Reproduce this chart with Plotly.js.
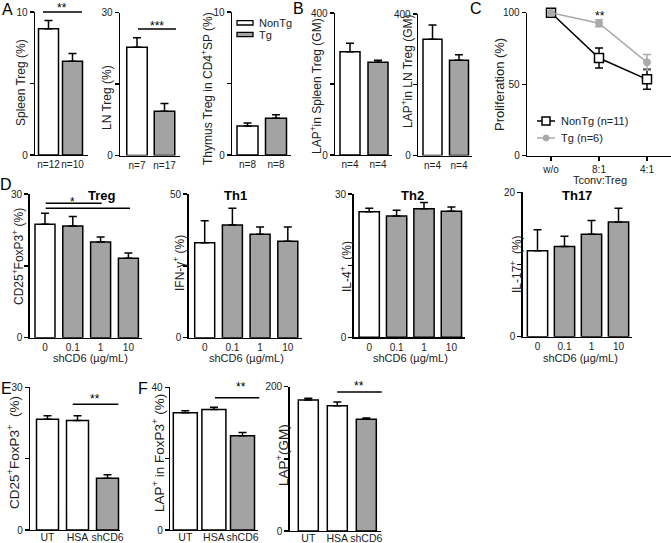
<!DOCTYPE html>
<html><head><meta charset="utf-8">
<script src="https://cdn.plot.ly/plotly-3.0.1.min.js"></script>
<style>html,body{margin:0;padding:0;background:#fff}#chart{width:671px;height:543px}</style>
</head><body><div id="chart"></div>
<script>
// ---------------- data ----------------
const aGroups = ['NonTg', 'Tg'];
const spleenTreg = [8.83, 6.55];
const spleenTregErr = [0.57, 0.55];
const spleenN = ['n=12', 'n=10'];
const lnTreg = [22.7, 9.3];
const lnTregErr = [2.0, 1.6];
const lnN = ['n=7', 'n=17'];
const thymusTreg = [2.03, 2.57];
const thymusTregErr = [0.2, 0.25];
const thymusN = ['n=8', 'n=8'];
const lapSpleen = [291, 261];
const lapSpleenErr = [23.6, 5.8];
const lapSpleenN = ['n=4', 'n=4'];
const lapLN = [328.7, 269.6];
const lapLNErr = [40.3, 14.9];
const lapLNN = ['n=4', 'n=4'];

const ratios = ['w/o', '8:1', '4:1'];
const nonTgProlif = [100, 68.3, 53.4];
const nonTgProlifErr = [0, 7, 7];
const tgProlif = [100, 92.6, 65.3];
const tgProlifErr = [0, 2.5, 5.5];

const doses = ['0', '0.1', '1', '10'];
const tregPct = [23.7, 23.3, 20.0, 16.6];
const tregPctErr = [2.3, 2.0, 1.0, 1.1];
const th1Pct = [33.0, 39.2, 36.0, 33.6];
const th1PctErr = [7.7, 5.8, 2.5, 4.9];
const th2Pct = [26.3, 25.4, 26.9, 26.4];
const th2PctErr = [0.7, 1.2, 1.3, 0.9];
const th17Pct = [11.9, 12.5, 14.2, 15.9];
const th17PctErr = [2.9, 1.4, 1.9, 1.9];

const treatments = ['UT', 'HSA', 'shCD6'];
const eTregPct = [23.3, 23.0, 10.9];
const eTregPctErr = [0.7, 1.0, 0.7];
const fLapPct = [32.9, 33.8, 26.4];
const fLapPctErr = [0.5, 0.6, 0.9];
const fLapGM = [181.6, 173.7, 154.8];
const fLapGMErr = [2.3, 5.1, 1.8];

// ---------------- layout helpers ----------------
const W = 671, H = 543;
const FONT = 'Liberation Sans, Arial, Helvetica, sans-serif';
const WHITE = '#ffffff', GREY = '#a3a3a3';
const P = x => x / W;
const Q = y => 1 - y / H;

const traces = [];
const layout = {
  width: W, height: H, margin: {l: 0, r: 0, t: 0, b: 0},
  paper_bgcolor: '#fff', plot_bgcolor: 'rgba(0,0,0,0)',
  showlegend: false, font: {family: FONT, color: '#222'},
  annotations: [], shapes: []
};

function axBase() {
  return {showline: true, linecolor: '#000', linewidth: 1.3, showgrid: false, zeroline: false,
    tickcolor: '#000', tickwidth: 1.3, fixedrange: true, tickangle: 0,
    tickfont: {family: FONT, size: 10, color: '#222'}};
}

function makeAxes(k, cfg, cats) {
  const xn = k === 1 ? 'xaxis' : 'xaxis' + k;
  const yn = k === 1 ? 'yaxis' : 'yaxis' + k;
  const yid = k === 1 ? 'y' : 'y' + k;
  const xid = k === 1 ? 'x' : 'x' + k;
  const [x0, x1] = cfg.xpx, [top, bot] = cfg.ypx;
  const xa = axBase();
  Object.assign(xa, {type: 'category', domain: [P(x0), P(x1)], anchor: yid,
    range: [-(cfg.c0 - x0) / cfg.step, (x1 - cfg.c0) / cfg.step],
    ticks: cfg.xticks ? 'outside' : '', ticklen: cfg.xticks ? 4 : 0,
    tickvals: cats, ticktext: cfg.tickText || cats});
  if (cfg.xfont) xa.tickfont = Object.assign({}, xa.tickfont, {size: cfg.xfont});
  if (cfg.standoff !== undefined) xa.ticklabelstandoff = cfg.standoff;
  const ya = axBase();
  Object.assign(ya, {domain: [Q(bot), Q(top)], anchor: xid, range: cfg.yr,
    ticks: 'outside', ticklen: 4, tickvals: cfg.yt, ticktext: cfg.ytt});
  layout[xn] = xa; layout[yn] = ya;
  return [xid, yid];
}

function barPanel(k, cats, vals, errs, colors, cfg) {
  const [xid, yid] = makeAxes(k, cfg, cats);
  traces.push({type: 'bar', x: cats, y: vals, xaxis: xid, yaxis: yid,
    width: cfg.bar / cfg.step,
    marker: {color: colors, line: {color: '#000', width: 1.5}},
    error_y: {type: 'data', symmetric: false, array: errs, arrayminus: errs.map(() => 0),
      color: '#000', thickness: 1.5, width: 4},
    hoverinfo: 'skip'});
}

function ann(text, x, y, o) {
  layout.annotations.push(Object.assign({text: text, x: P(x), y: Q(y), xref: 'paper', yref: 'paper',
    showarrow: false, xanchor: 'center', yanchor: 'middle',
    font: {family: FONT, size: 12, color: '#222'}}, o || {}));
}
function ytitle(text, x, y, size) {
  ann(text, x, y, {textangle: -90, font: {family: FONT, size: size || 12, color: '#222'}});
}
function hline(x0, x1, y, color) {
  layout.shapes.push({type: 'line', xref: 'paper', yref: 'paper', x0: P(x0), x1: P(x1), y0: Q(y), y1: Q(y),
    line: {color: color || '#000', width: 1.5}});
}
function star(text, x, y) { ann(text, x, y, {font: {family: FONT, size: 12, color: '#000'}}); }

// ---------------- row 1 ----------------
barPanel(1, aGroups, spleenTreg, spleenTregErr, [WHITE, GREY],
  {xpx: [35, 88], c0: 48.5, step: 24, bar: 20, ypx: [12, 155], yr: [0, 10], yt: [0, 5, 10], ytt: ['0', '', '10'], tickText: spleenN});
barPanel(2, aGroups, lnTreg, lnTregErr, [WHITE, GREY],
  {xpx: [120, 180], c0: 137, step: 27.5, bar: 20.5, ypx: [12.5, 155.5], yr: [0, 30], yt: [0, 15, 30], ytt: ['0', '', '30'], tickText: lnN});
barPanel(3, aGroups, thymusTreg, thymusTregErr, [WHITE, GREY],
  {xpx: [232, 291], c0: 247.5, step: 28.5, bar: 21, ypx: [12, 155], yr: [0, 10], yt: [0, 5, 10], ytt: ['0', '', '10'], tickText: thymusN});
barPanel(4, aGroups, lapSpleen, lapSpleenErr, [WHITE, GREY],
  {xpx: [335, 392], c0: 350, step: 28, bar: 20, ypx: [13, 155], yr: [0, 400], yt: [0, 200, 400], ytt: ['0', '', '400'], tickText: lapSpleenN});
barPanel(5, aGroups, lapLN, lapLNErr, [WHITE, GREY],
  {xpx: [418, 472], c0: 432.5, step: 26.5, bar: 19, ypx: [14, 155.5], yr: [0, 400], yt: [0, 200, 400], ytt: ['0', '', '400'], tickText: lapLNN});

// panel C (line chart)
{
  const [xid, yid] = makeAxes(6, {xpx: [527, 671], c0: 551, step: 48, ypx: [12.7, 155.7], yr: [0, 100],
    yt: [0, 50, 100], ytt: ['0', '50', '100'], xticks: true}, ratios);
  traces.push({type: 'scatter', mode: 'lines+markers', x: ratios, y: nonTgProlif, xaxis: xid, yaxis: yid,
    cliponaxis: false, line: {color: '#000', width: 1.5},
    marker: {symbol: 'square', size: 9, color: '#fff', line: {color: '#000', width: 1.5}},
    error_y: {type: 'data', array: nonTgProlifErr, color: '#000', thickness: 1.5, width: 4}, hoverinfo: 'skip'});
  traces.push({type: 'scatter', mode: 'lines+markers', x: ratios, y: tgProlif, xaxis: xid, yaxis: yid,
    cliponaxis: false, line: {color: '#aaaaaa', width: 1.5},
    marker: {symbol: 'circle', size: 7, color: '#aaaaaa', line: {color: '#aaaaaa', width: 1}},
    error_y: {type: 'data', array: tgProlifErr, color: '#aaaaaa', thickness: 1.5, width: 4}, hoverinfo: 'skip'});
}

// ---------------- row 2 ----------------
const dColors = [WHITE, GREY, GREY, GREY];
barPanel(7, doses, tregPct, tregPctErr, dColors,
  {xpx: [29.5, 142], c0: 45, step: 27.8, bar: 20, ypx: [194, 337.7], yr: [0, 30], yt: [0, 15, 30], ytt: ['0', '', '30']});
barPanel(8, doses, th1Pct, th1PctErr, dColors,
  {xpx: [188.5, 302], c0: 204.7, step: 27.7, bar: 20, ypx: [194, 337.7], yr: [0, 50], yt: [0, 25, 50], ytt: ['0', '', '50']});
barPanel(9, doses, th2Pct, th2PctErr, dColors,
  {xpx: [353.5, 465], c0: 369.2, step: 27.4, bar: 20.3, ypx: [194, 337.3], yr: [0, 30], yt: [0, 15, 30], ytt: ['0', '', '30']});
barPanel(10, doses, th17Pct, th17PctErr, dColors,
  {xpx: [522.5, 632], c0: 537.5, step: 27, bar: 20.3, ypx: [192.3, 336.7], yr: [0, 20], yt: [0, 10, 20], ytt: ['0', '', '20']});

// ---------------- row 3 ----------------
const eColors = [WHITE, WHITE, GREY];
barPanel(11, treatments, eTregPct, eTregPctErr, eColors,
  {xpx: [30, 120], c0: 47.5, step: 30, bar: 22, ypx: [387.3, 530], yr: [0, 30], yt: [0, 15, 30], ytt: ['0', '', '30'], xfont: 10.5, standoff: -3});
barPanel(12, treatments, fLapPct, fLapPctErr, eColors,
  {xpx: [170, 258], c0: 185.3, step: 28.6, bar: 24, ypx: [387.3, 530], yr: [0, 40], yt: [0, 20, 40], ytt: ['0', '', '40'], xfont: 10.5, standoff: -3});
barPanel(13, treatments, fLapGM, fLapGMErr, eColors,
  {xpx: [289.5, 381], c0: 308.3, step: 29, bar: 20, ypx: [386.7, 531], yr: [0, 200], yt: [0, 100, 200], ytt: ['0', '', '200'], xfont: 10.5, standoff: -3});

// ---------------- titles & labels ----------------
const L = 16;
ann('A', 7, 10, {font: {family: FONT, size: L, color: '#000'}});
ann('B', 298, 9, {font: {family: FONT, size: L, color: '#000'}});
ann('C', 476, 9, {font: {family: FONT, size: L, color: '#000'}});
ann('D', 6, 184, {font: {family: FONT, size: L, color: '#000'}});
ann('E', 6, 388, {font: {family: FONT, size: L, color: '#000'}});
ann('F', 143, 388, {font: {family: FONT, size: L, color: '#000'}});

ytitle('Spleen Treg (%)', 21, 83);
ytitle('LN Treg (%)', 107, 98);
ytitle('Thymus Treg in CD4<sup>+</sup>SP (%)', 207, 89);
ytitle('LAP<sup>+</sup>in Spleen Treg (GM)', 316, 86);
ytitle('LAP<sup>+</sup>in LN Treg (GM)', 407, 71);
ytitle('Proliferation (%)', 500, 85, 13);
ytitle('CD25<sup>+</sup>FoxP3<sup>+</sup> (%)', 18, 257);
ytitle('IFN-γ<sup>+</sup> (%)', 179, 263);
ytitle('IL-4<sup>+</sup>  (%)', 346, 267);
ytitle('IL-17<sup>+</sup>  (%)', 516, 264);
ytitle('CD25<sup>+</sup>FoxP3<sup>+</sup>  (%)', 13, 453, 13.5);
ytitle('LAP<sup>+</sup> in FoxP3<sup>+</sup> (%)', 158, 453, 13.5);
ytitle('LAP<sup>+</sup>(GM)', 282, 455, 13.5);

const tf = {family: FONT, size: 11, color: '#222'};
ann('shCD6 (µg/mL)', 90, 358, {font: tf});
ann('shCD6 (µg/mL)', 246, 358, {font: tf});
ann('shCD6 (µg/mL)', 410, 358, {font: tf});
ann('shCD6 (µg/mL)', 580, 358, {font: tf});
ann('Tconv:Treg', 600, 180, {font: tf});

const bf = {family: FONT, size: 13, color: '#000'};
ann('<b>Treg</b>', 102, 195, {font: bf});
ann('<b>Th1</b>', 235, 195, {font: bf});
ann('<b>Th2</b>', 413, 195, {font: bf});
ann('<b>Th17</b>', 577, 195, {font: bf});

// significance
hline(43, 82, 12); star('**', 62, 8);
hline(138, 176, 29); star('***', 157, 26);
star('**', 600, 16);
hline(45.7, 101.7, 203.3); hline(45.7, 130, 208.3); star('*', 72, 202);
hline(72.7, 118.3, 404.3); star('**', 95, 399);
hline(215, 259.3, 397.7); star('**', 241, 387);
hline(337.3, 381.7, 392); star('**', 359, 386);

// legend for A (thymus panel)
layout.shapes.push({type: 'rect', xref: 'paper', yref: 'paper', x0: P(237), x1: P(253), y0: Q(25), y1: Q(20.7),
  line: {color: '#000', width: 1.3}, fillcolor: WHITE});
layout.shapes.push({type: 'rect', xref: 'paper', yref: 'paper', x0: P(237), x1: P(253), y0: Q(36.7), y1: Q(32.3),
  line: {color: '#000', width: 1.3}, fillcolor: GREY});
const lf = {family: FONT, size: 11, color: '#222'};
ann('NonTg', 257, 23, {xanchor: 'left', font: lf});
ann('Tg', 257, 34.5, {xanchor: 'left', font: lf});

// legend for C
hline(537, 555, 121);
layout.shapes.push({type: 'rect', xref: 'paper', yref: 'paper', x0: P(542), x1: P(550), y0: Q(125), y1: Q(117),
  line: {color: '#000', width: 1.5}, fillcolor: '#fff'});
hline(537, 555, 138, '#aaaaaa');
layout.shapes.push({type: 'circle', xref: 'paper', yref: 'paper', x0: P(543), x1: P(549), y0: Q(141), y1: Q(135),
  line: {color: '#aaaaaa', width: 1}, fillcolor: '#aaaaaa'});
ann('NonTg (n=11)', 559, 121, {xanchor: 'left', font: lf});
ann('Tg (n=6)', 559, 138, {xanchor: 'left', font: lf});

Plotly.newPlot('chart', traces, layout, {staticPlot: true, displayModeBar: false});
</script>
</body></html>
